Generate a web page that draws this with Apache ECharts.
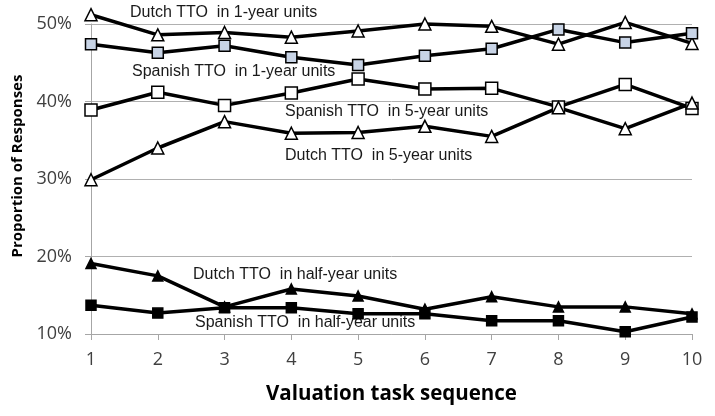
<!DOCTYPE html>
<html><head><meta charset="utf-8">
<script src="https://cdn.jsdelivr.net/npm/echarts@6/dist/echarts.min.js"></script>
<style>html,body{margin:0;padding:0;background:#fff}#c{width:715px;height:416px}</style>
</head><body><div id="c"></div>
<script>
const categories = ['1','2','3','4','5','6','7','8','9','10'];
const dutch1 = [51.2, 48.6, 48.9, 48.3, 49.1, 50.0, 49.7, 47.4, 50.2, 47.5];
const spanish1 = [47.4, 46.3, 47.2, 45.7, 44.7, 45.9, 46.8, 49.3, 47.6, 48.8];
const spanish5 = [38.9, 41.2, 39.5, 41.1, 42.9, 41.6, 41.7, 39.3, 42.2, 39.1];
const dutch5 = [29.9, 34.0, 37.4, 35.9, 36.0, 36.8, 35.5, 39.2, 36.5, 39.8];
const dutchHalf = [19.1, 17.5, 13.5, 15.8, 14.9, 13.2, 14.8, 13.5, 13.5, 12.6];
const spanishHalf = [13.7, 12.7, 13.4, 13.4, 12.6, 12.6, 11.7, 11.7, 10.3, 12.2];
const yTicks = [10, 20, 30, 40, 50];

const chart = echarts.init(document.getElementById('c'));
function ser(name, data, symbol, size, fill) {
  return {
    name, type: 'line', data, symbol, symbolSize: size, clip: false,
    lineStyle: {color: '#000', width: 3.5},
    itemStyle: {color: fill, borderColor: '#000', borderWidth: 1.5},
    z: 3
  };
}
const lab = (text, x, y) => ({type: 'text', left: x, top: y,
  style: {text, font: '16px "Liberation Sans", Arial, sans-serif', fill: '#1a1a1a'}});
chart.setOption({
  animation: false,
  grid: {left: 91, right: 23, top: 24, bottom: 82},
  xAxis: {
    type: 'category', data: categories, boundaryGap: false,
    axisLine: {lineStyle: {color: '#a6a6a6', width: 1}},
    axisTick: {show: true, alignWithLabel: true, length: 6, lineStyle: {color: '#a6a6a6'}},
    axisLabel: {color: '#404040', fontSize: 18, fontFamily: 'Open Sans', margin: 17},
    name: 'Valuation task sequence', nameLocation: 'middle', nameGap: 50,
    nameTextStyle: {fontSize: 20.5, fontWeight: 'bold', fontFamily: 'Open Sans', color: '#000'}
  },
  yAxis: {
    type: 'value', min: 10, max: 50, interval: 10,
    axisLine: {show: true, lineStyle: {color: '#a6a6a6', width: 1}},
    axisTick: {show: true, length: 6, lineStyle: {color: '#a6a6a6'}},
    splitLine: {lineStyle: {color: '#b0b0b0', width: 1}},
    axisLabel: {color: '#404040', fontSize: 18, fontFamily: 'Open Sans', margin: 19,
      formatter: v => yTicks.includes(v) ? v + '%' : ''}
  },
  series: [
    ser('Dutch TTO in 1-year units', dutch1, 'triangle', 12, '#fff'),
    ser('Spanish TTO in 1-year units', spanish1, 'rect', 11, '#c8d4e6'),
    ser('Spanish TTO in 5-year units', spanish5, 'rect', 12, '#fff'),
    ser('Dutch TTO in 5-year units', dutch5, 'triangle', 12, '#fff'),
    ser('Dutch TTO in half-year units', dutchHalf, 'triangle', 10, '#000'),
    ser('Spanish TTO in half-year units', spanishHalf, 'rect', 10, '#000')
  ],
  graphic: [
    lab('Dutch TTO  in 1-year units', 130, 5),
    lab('Spanish TTO  in 1-year units', 132, 64),
    lab('Spanish TTO  in 5-year units', 285, 104),
    lab('Dutch TTO  in 5-year units', 285, 148),
    lab('Dutch TTO  in half-year units', 193, 267),
    lab('Spanish TTO  in half-year units', 195, 315),
    {type: 'text', x: 18, y: 166, rotation: Math.PI / 2,
     style: {text: 'Proportion of Responses', font: 'bold 15px "Open Sans"', fill: '#000',
             textAlign: 'center', textVerticalAlign: 'middle'}}
  ]
});
</script></body></html>
